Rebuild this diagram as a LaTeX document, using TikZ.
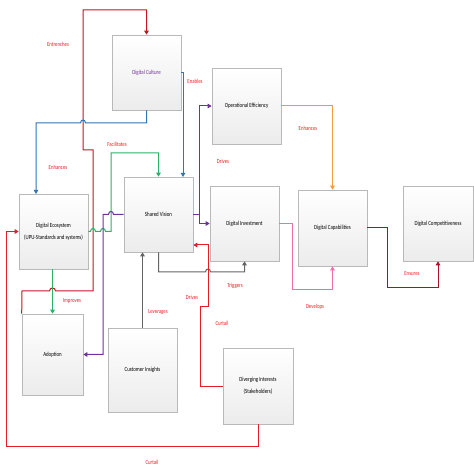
\documentclass[tikz,border=0pt]{standalone}
\usepackage{fontspec}
\setmainfont{Carlito}[FakeStretch=0.78]
\usetikzlibrary{arrows.meta,shadows}
\definecolor{labred}{RGB}{240,30,35}
\definecolor{darkred}{RGB}{196,20,40}
\definecolor{brightred}{RGB}{228,28,36}
\definecolor{ensred}{RGB}{175,15,40}
\definecolor{lblue}{RGB}{46,117,182}
\definecolor{lpurple}{RGB}{112,48,160}
\definecolor{lgreen}{RGB}{44,176,104}
\definecolor{lgray}{RGB}{100,100,100}
\definecolor{lorange}{RGB}{245,155,60}
\definecolor{lpink}{RGB}{240,110,170}
\begin{document}
\begin{tikzpicture}[x=1pt,y=-1pt,
  box/.style={draw=gray!55, line width=0.6pt, top color=white, bottom color=gray!15,
    minimum width=69pt, minimum height=75pt, inner sep=1pt, align=center,
    font=\fontsize{6.3}{12}\selectfont, text=black,
    drop shadow={shadow xshift=1pt,shadow yshift=-1pt,fill=gray!50,opacity=0.6}},
  lab/.style={font=\fontsize{6.2}{7}\selectfont, text=labred, inner sep=0pt},
  conn/.style={line width=1pt, -{Triangle[length=4pt,width=4.5pt]}}
]
\fill[white] (0,0) rectangle (474,470);
\useasboundingbox (0,0) rectangle (474,470);

% boxes
\node[box, text=lpurple] (cult) at (146.5,72.5) {Digital Culture};
\node[box, minimum height=76pt] (opeff) at (246.5,106) {Operational Efficiency};
\node[box] (eco) at (53.5,231.5) {Digital Ecosystem\\(UPU-Standards and systems)};
\node[box] (vision) at (158.5,214.5) {Shared Vision};
\node[box] (invest) at (244.5,223.5) {Digital Investment};
\node[box, minimum height=76pt] (capab) at (332.5,228) {Digital Capabilities};
\node[box, minimum width=70pt] (compet) at (438,223.5) {Digital Competitiveness};
\node[box, minimum width=61pt, minimum height=81pt] (adopt) at (52.5,354.5) {Adoption};
\node[box, minimum height=84pt] (cust) at (142.5,370) {Customer Insights};
\node[box, minimum width=70pt, minimum height=76pt] (diverg) at (258,386) {Diverging Interests\\(Stakeholders)};

% Entrenches
\draw[conn, darkred] (adopt.north west) -- (22,291) -- (49.5,291)
  .. controls (49.5,287) and (55.5,287) .. (55.5,291) -- (93,291) -- (93,150)
  -- (83,150) -- (83,10) -- (cult.north |- 0,10) -- (cult.north);
% Enhances (blue)
\draw[conn, lblue] (cult.south) -- (146.5,123) -- (85.5,123)
  .. controls (85.5,119) and (80.5,119) .. (80.5,123) -- (36,123) -- (36,194);
% Enables
\draw[conn, lblue] (cult.east |- 0,73) -- (183,73) -- (183,177);
% Facilitates (green)
\draw[conn, lgreen] (eco.east) -- (90.5,231.5)
  .. controls (90.5,227.5) and (95.5,227.5) .. (95.5,231.5) -- (100.5,231.5)
  .. controls (100.5,227.5) and (105.5,227.5) .. (105.5,231.5) -- (111,231.5)
  -- (111,153) -- (vision.north |- 0,153) -- (vision.north);
% Improves (green)
\draw[conn, lgreen] (eco.south -| adopt.north) -- (adopt.north);
% Purple to Adoption
\draw[conn, lpurple] (vision.west) -- (113.5,214.5)
  .. controls (113.5,210.5) and (108.5,210.5) .. (108.5,214.5) -- (103,214.5)
  -- (103,354.5) -- (adopt.east);
% Drives (purple)
\draw[conn, lpurple] (vision.east) -- (199,214.5) -- (199,106) -- (opeff.west);
\draw[conn, lpurple] (199,214.5) -- (199,223.5) -- (invest.west);
% Leverages
\draw[conn, lgray] (cust.north) -- (cust.north |- vision.south);
% Triggers
\draw[conn, lgray] (vision.south) -- (158.5,272) -- (205.5,272)
  .. controls (205.5,268) and (210.5,268) .. (210.5,272) -- (244.5,272) -- (invest.south);
% Drives (red)
\draw[conn, brightred] (diverg.west) -- (200,386) -- (200,307) -- (208,307) -- (208,245) -- (vision.east |- 0,245);
% Curtail (bottom)
\draw[conn, brightred] (diverg.south) -- (258,446) -- (6,446) -- (6,231.5) -- (eco.west);
% Enhances (orange)
\draw[conn, lorange] (opeff.east) -- (332.5,106) -- (capab.north);
% Develops
\draw[conn, lpink] (invest.east) -- (292,223.5) -- (292,290) -- (332.5,290) -- (capab.south);
% Ensures
\draw[conn, ensred] (capab.east) -- (387,228) -- (387,288) -- (438,288) -- (compet.south);

% labels
\node[lab] (l1) at (58,44) {Entrenches};
\node[lab] (l2) at (58,167) {Enhances};
\node[lab] (l3) at (195,81) {Enables};
\node[lab] (l4) at (117,144) {Facilitates};
\node[lab] (l5) at (223,161) {Drives};
\node[lab] (l6) at (308,128) {Enhances};
\node[lab] (l7) at (72,301) {Improves};
\node[lab] (l8) at (158,312) {Leverages};
\node[lab] (l9) at (235,286) {Triggers};
\node[lab] (l10) at (192,297) {Drives};
\node[lab] (l11) at (222,323) {Curtail};
\node[lab] (l12) at (315,307) {Develops};
\node[lab] (l13) at (412,274) {Ensures};
\node[lab] (l14) at (152,462) {Curtail};
\end{tikzpicture}
\end{document}
